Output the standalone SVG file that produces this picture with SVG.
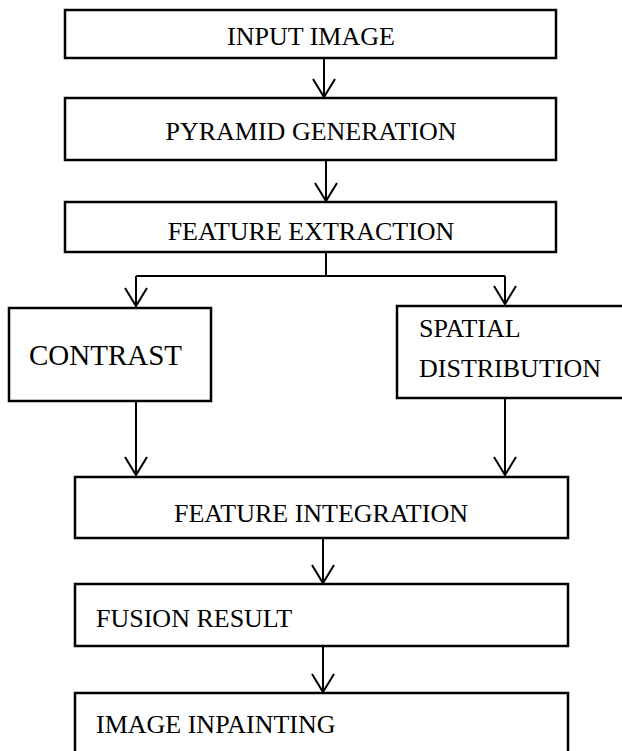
<svg xmlns="http://www.w3.org/2000/svg" width="622" height="751" viewBox="0 0 622 751">
  <defs>
    <marker id="arr" markerUnits="userSpaceOnUse" markerWidth="24" markerHeight="26" refX="0" refY="0" orient="auto" overflow="visible">
      <path d="M-18,-11 L0,0 L-18,11" fill="none" stroke="#000" stroke-width="2"/>
    </marker>
    <style>
      .box { fill: #fff; stroke: #000; stroke-width: 2.5; }
      .lbl { font-family: "Liberation Serif", "Times New Roman", serif; font-size: 26px; fill: #000; }
      .big { font-size: 29px; }
      .con { fill: none; stroke: #000; stroke-width: 2; }
    </style>
  </defs>
  <rect width="622" height="751" fill="#fff"/>

  <g id="connectors">
    <line class="con" x1="324" y1="58" x2="324" y2="97" marker-end="url(#arr)"/>
    <line class="con" x1="326" y1="160" x2="326" y2="201" marker-end="url(#arr)"/>
    <polyline class="con" points="326,252 326,276"/>
    <polyline class="con" points="136,276 505,276"/>
    <line class="con" x1="136" y1="276" x2="136" y2="306" marker-end="url(#arr)"/>
    <line class="con" x1="505" y1="276" x2="505" y2="304" marker-end="url(#arr)"/>
    <line class="con" x1="136" y1="401" x2="136" y2="475" marker-end="url(#arr)"/>
    <line class="con" x1="505" y1="398" x2="505" y2="475" marker-end="url(#arr)"/>
    <line class="con" x1="323" y1="538" x2="323" y2="583" marker-end="url(#arr)"/>
    <line class="con" x1="323" y1="646" x2="323" y2="692" marker-end="url(#arr)"/>
  </g>

  <g id="input-image">
    <rect class="box" x="65" y="10" width="491" height="48"/>
    <text class="lbl" x="311" y="45" text-anchor="middle">INPUT IMAGE</text>
  </g>
  <g id="pyramid-generation">
    <rect class="box" x="65" y="98" width="491" height="62"/>
    <text class="lbl" x="311" y="140" text-anchor="middle">PYRAMID GENERATION</text>
  </g>
  <g id="feature-extraction">
    <rect class="box" x="65" y="202" width="491" height="50"/>
    <text class="lbl" x="311" y="240" text-anchor="middle">FEATURE EXTRACTION</text>
  </g>
  <g id="contrast">
    <rect class="box" x="9" y="308" width="202" height="93"/>
    <text class="lbl big" x="29" y="365">CONTRAST</text>
  </g>
  <g id="spatial-distribution">
    <rect class="box" x="397" y="306" width="250" height="92"/>
    <text class="lbl" x="419" y="337">SPATIAL</text>
    <text class="lbl" x="419" y="377">DISTRIBUTION</text>
  </g>
  <g id="feature-integration">
    <rect class="box" x="75" y="477" width="493" height="61"/>
    <text class="lbl" x="321" y="522" text-anchor="middle">FEATURE INTEGRATION</text>
  </g>
  <g id="fusion-result">
    <rect class="box" x="75" y="584" width="493" height="62"/>
    <text class="lbl" x="96" y="627">FUSION RESULT</text>
  </g>
  <g id="image-inpainting">
    <rect class="box" x="75" y="693" width="493" height="70"/>
    <text class="lbl" x="96" y="733">IMAGE INPAINTING</text>
  </g>
</svg>
